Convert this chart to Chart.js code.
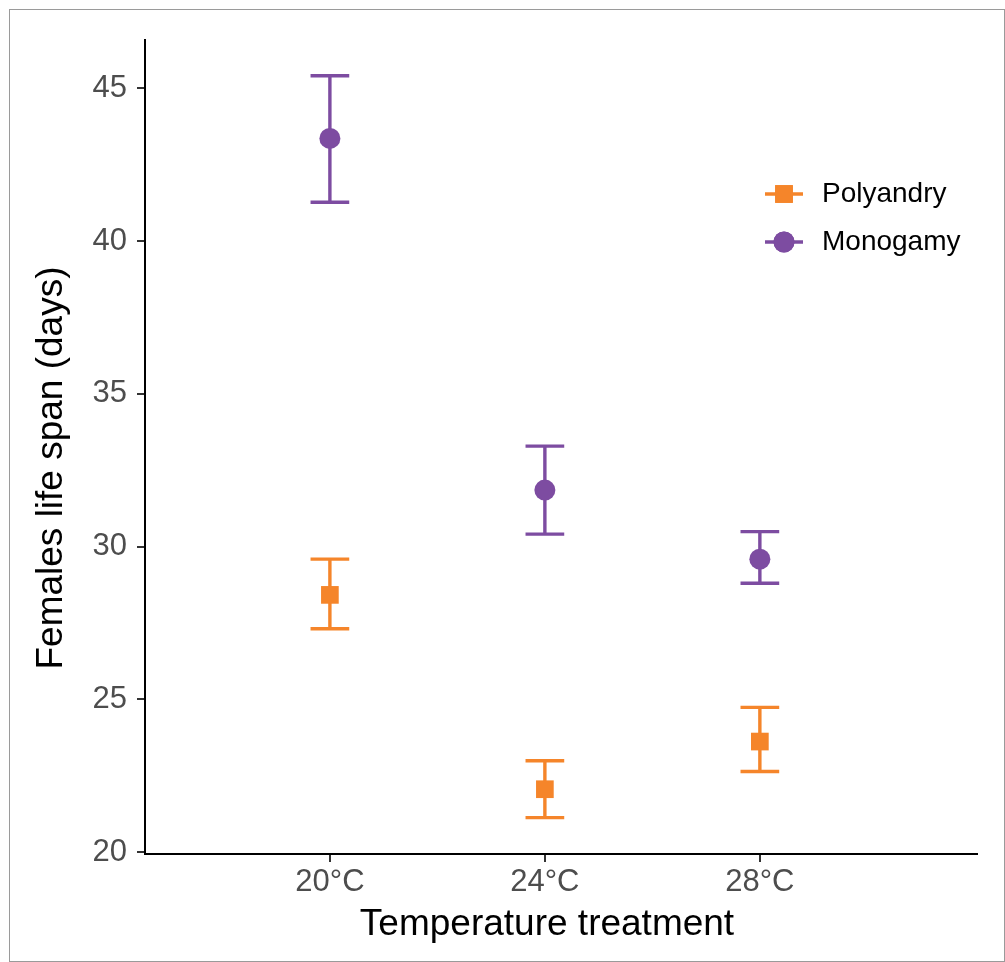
<!DOCTYPE html>
<html>
<head>
<meta charset="utf-8">
<script src="https://cdn.jsdelivr.net/npm/chart.js@4"></script>
<style>
  html, body { margin: 0; padding: 0; background: #fff; }
  #wrap { width: 1005px; height: 962px; position: relative; }
</style>
</head>
<body>
<div id="wrap"><canvas id="chart-ctx"></canvas></div>
<script>
// categories and values
const temperatures = ["20°C", "24°C", "28°C"];
const xPositions = [1, 2, 3];
const yTicks = [20, 25, 30, 35, 40, 45];

const polyandryMean = [28.42, 22.06, 23.62];
const polyandryLow = [27.31, 21.13, 22.64];
const polyandryHigh = [29.59, 22.99, 24.74];

const monogamyMean = [43.36, 31.85, 29.59];
const monogamyLow = [41.27, 30.41, 28.80];
const monogamyHigh = [45.41, 33.29, 30.49];

const orange = "#F5852A";
const purple = "#7D4CA1";
const fontFamily = "'Liberation Sans', Arial, Helvetica, sans-serif";

function points(means) {
    return means.map((v, i) => ({ x: xPositions[i], y: v }));
}

const seriesList = [
    { label: "Polyandry", color: orange, style: "rect", radius: 12.5, mean: polyandryMean, low: polyandryLow, high: polyandryHigh },
    { label: "Monogamy", color: purple, style: "circle", radius: 10.5, mean: monogamyMean, low: monogamyLow, high: monogamyHigh },
];

// error bars drawn under the markers
const errorBars = {
    id: "errorBars",
    beforeDatasetsDraw(chart) {
        const { ctx, scales: { x, y } } = chart;
        ctx.save();
        ctx.lineWidth = 3.4;
        seriesList.forEach((s) => {
            ctx.strokeStyle = s.color;
            s.mean.forEach((m, i) => {
                const px = x.getPixelForValue(xPositions[i]);
                const capL = x.getPixelForValue(xPositions[i] - 0.09);
                const capR = x.getPixelForValue(xPositions[i] + 0.09);
                const top = y.getPixelForValue(s.high[i]);
                const bot = y.getPixelForValue(s.low[i]);
                ctx.beginPath();
                ctx.moveTo(px, top);
                ctx.lineTo(px, bot);
                ctx.moveTo(capL, top);
                ctx.lineTo(capR, top);
                ctx.moveTo(capL, bot);
                ctx.lineTo(capR, bot);
                ctx.stroke();
            });
        });
        ctx.restore();
    }
};

// legend, axis titles and frame
const decorations = {
    id: "decorations",
    afterDraw(chart) {
        const { ctx } = chart;
        ctx.save();
        ctx.strokeStyle = "#9a9a9a";
        ctx.lineWidth = 1;
        ctx.strokeRect(9.5, 9.5, 995, 952);

        seriesList.forEach((s, i) => {
            const cy = 194 + i * 48;
            ctx.strokeStyle = s.color;
            ctx.lineWidth = 3.4;
            ctx.beginPath();
            ctx.moveTo(765, cy);
            ctx.lineTo(803, cy);
            ctx.stroke();
            ctx.fillStyle = s.color;
            Chart.helpers.drawPoint(ctx, { pointStyle: s.style, radius: s.radius, rotation: 0, borderWidth: 0 }, 784, cy);
            ctx.fill();
            ctx.fillStyle = "#000";
            ctx.font = "28px " + fontFamily;
            ctx.textAlign = "left";
            ctx.textBaseline = "middle";
            ctx.fillText(s.label, 822, cy);
        });

        ctx.fillStyle = "#000";
        ctx.font = "37px " + fontFamily;
        ctx.textAlign = "center";
        ctx.textBaseline = "middle";
        ctx.fillText("Temperature treatment", 547, 925);
        ctx.translate(52, 468);
        ctx.rotate(-Math.PI / 2);
        ctx.fillText("Females life span (days)", 0, 0);
        ctx.restore();
    }
};

const ctx = document.getElementById("chart-ctx");

new Chart(ctx, {
    type: "scatter",
    data: {
        datasets: seriesList.map((s) => ({
            label: s.label,
            data: points(s.mean),
            pointStyle: s.style,
            pointRadius: s.radius,
            pointHoverRadius: s.radius,
            backgroundColor: s.color,
            borderColor: s.color,
            borderWidth: 0,
        }))
    },
    plugins: [errorBars, decorations],
    options: {
        responsive: true,
        maintainAspectRatio: false,
        animation: false,
        layout: {
            padding: { top: 40, right: 28, left: 0, bottom: 0 }
        },
        plugins: {
            legend: { display: false },
            tooltip: { enabled: false },
        },
        scales: {
            x: {
                type: "linear",
                min: 0.14,
                max: 4.01,
                afterBuildTicks: (scale) => {
                    scale.ticks = xPositions.map((v) => ({ value: v }));
                },
                afterFit: (scale) => {
                    scale.height = 108;
                },
                ticks: {
                    callback: (value) => temperatures[xPositions.indexOf(value)],
                    color: "#4d4d4d",
                    font: { size: 31, family: fontFamily },
                    padding: 2,
                    maxRotation: 0,
                },
                grid: {
                    drawOnChartArea: false,
                    tickLength: 8,
                    color: "#333",
                    lineWidth: 2,
                },
                border: { color: "#000", width: 2 },
            },
            y: {
                min: 19.94,
                max: 46.58,
                afterBuildTicks: (scale) => {
                    scale.ticks = yTicks.map((v) => ({ value: v }));
                },
                afterFit: (scale) => {
                    scale.width = 145;
                },
                ticks: {
                    color: "#4d4d4d",
                    font: { size: 31, family: fontFamily },
                    padding: 10,
                },
                grid: {
                    drawOnChartArea: false,
                    tickLength: 8,
                    color: "#333",
                    lineWidth: 2,
                },
                border: { color: "#000", width: 2 },
            }
        }
    }
});
</script>
</body>
</html>
